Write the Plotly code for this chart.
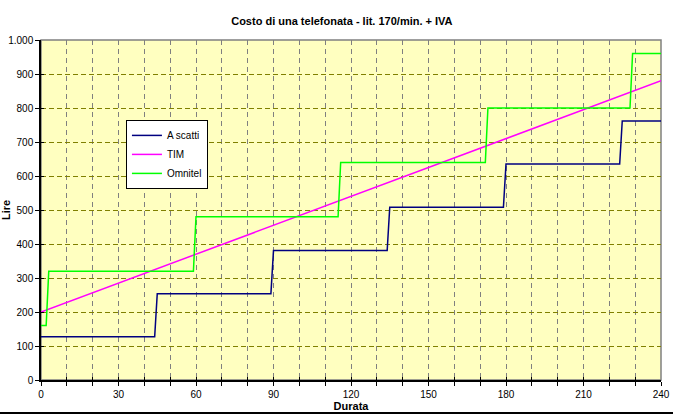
import plotly.graph_objects as go

# ---- data ----
scatti_t = [0, 44, 45, 89, 90, 134, 135, 179, 180, 224, 225, 240]
scatti_v = [127, 127, 254, 254, 381, 381, 508, 508, 635, 635, 762, 762]

tim_t = [0, 240]
tim_v = [200, 880]

omni_t = [0, 2, 3, 59, 60, 115, 116, 172, 173, 228, 229, 240]
omni_v = [160, 160, 320, 320, 480, 480, 640, 640, 800, 800, 960, 960]

x_tickvals = [0, 30, 60, 90, 120, 150, 180, 210, 240]
x_ticktext = ["0", "30", "60", "90", "120", "150", "180", "210", "240"]
x_minor = list(range(0, 241, 10))
y_tickvals = [0, 100, 200, 300, 400, 500, 600, 700, 800, 900, 1000]
y_ticktext = ["0", "100", "200", "300", "400", "500", "600", "700", "800", "900", "1.000"]

FONT = "Liberation Sans, Arial, sans-serif"

fig = go.Figure()
fig.add_trace(go.Scatter(x=scatti_t, y=scatti_v, mode="lines", name="A scatti",
                         line=dict(color="#000080", width=1.5)))
fig.add_trace(go.Scatter(x=tim_t, y=tim_v, mode="lines", name="TIM",
                         line=dict(color="#FF00FF", width=1.5)))
fig.add_trace(go.Scatter(x=omni_t, y=omni_v, mode="lines", name="Omnitel",
                         line=dict(color="#00FF00", width=1.5)))
# helper trace to create the overlay axes (inside half of crossing ticks)
fig.add_trace(go.Scatter(x=[None], y=[None], xaxis="x2", yaxis="y2",
                         showlegend=False, hoverinfo="skip"))

fig.update_layout(
    width=673, height=415,
    margin=dict(l=41, r=12, t=40, b=35, autoexpand=False),
    paper_bgcolor="white",
    plot_bgcolor="#FFFFC0",
    font=dict(family=FONT, size=10, color="black"),
    title=dict(text="<b>Costo di una telefonata - lit. 170/min. + IVA</b>",
               x=0.508, xanchor="center", y=0.950, yanchor="middle",
               font=dict(family=FONT, size=11, color="black")),
    showlegend=True,
    legend=dict(x=0.137, y=0.765, xanchor="left", yanchor="top",
                bgcolor="white", bordercolor="black", borderwidth=1,
                font=dict(family=FONT, size=10, color="black"),
                itemwidth=30, tracegroupgap=0),
    xaxis=dict(range=[0, 240], tickvals=x_tickvals, ticktext=x_ticktext,
               automargin=False,
               ticks="outside", ticklen=4, tickcolor="black",
               showline=True, linecolor="black", linewidth=1.5,
               showgrid=True, gridcolor="#808080", griddash="5px,4px", gridwidth=1,
               minor=dict(tickvals=x_minor, ticks="outside", ticklen=4, tickcolor="black",
                          showgrid=True, gridcolor="#808080", griddash="5px,4px", gridwidth=1),
               zeroline=False, fixedrange=True,
               title=dict(text="<b>Durata</b>", standoff=0,
                          font=dict(family=FONT, size=11, color="black"))),
    yaxis=dict(range=[0, 1000], tickvals=y_tickvals, ticktext=y_ticktext,
               automargin=False,
               ticks="outside", ticklen=4, tickcolor="black",
               showline=True, linecolor="black", linewidth=1.5,
               showgrid=True, gridcolor="#808000", griddash="5px,3px", gridwidth=1,
               zeroline=False, fixedrange=True,
               title=dict(text="<b>Lire</b>", standoff=0,
                          font=dict(family=FONT, size=11, color="black"))),
    xaxis2=dict(overlaying="x", matches="x", anchor="y", side="bottom", automargin=False,
                tickvals=x_minor, ticks="inside", ticklen=3, tickcolor="black",
                showticklabels=False, showgrid=False, zeroline=False, showline=False),
    yaxis2=dict(overlaying="y", matches="y", anchor="x", side="left", automargin=False,
                tickvals=y_tickvals, ticks="inside", ticklen=3, tickcolor="black",
                showticklabels=False, showgrid=False, zeroline=False, showline=False),
)

# plot-area border (gray top/right) and chart-area bottom frame line
fig.add_shape(type="rect", xref="paper", yref="paper", x0=0, y0=0, x1=1, y1=1,
              line=dict(color="#808080", width=1.5), layer="below")
fig.add_shape(type="line", xref="paper", yref="paper",
              x0=-41 / 620, x1=632 / 620, y0=-33 / 340, y1=-33 / 340,
              line=dict(color="black", width=2))

fig.write_html("out.html", config={"displayModeBar": False},
               post_script="document.body.style.margin='0';document.body.style.overflow='hidden';")
